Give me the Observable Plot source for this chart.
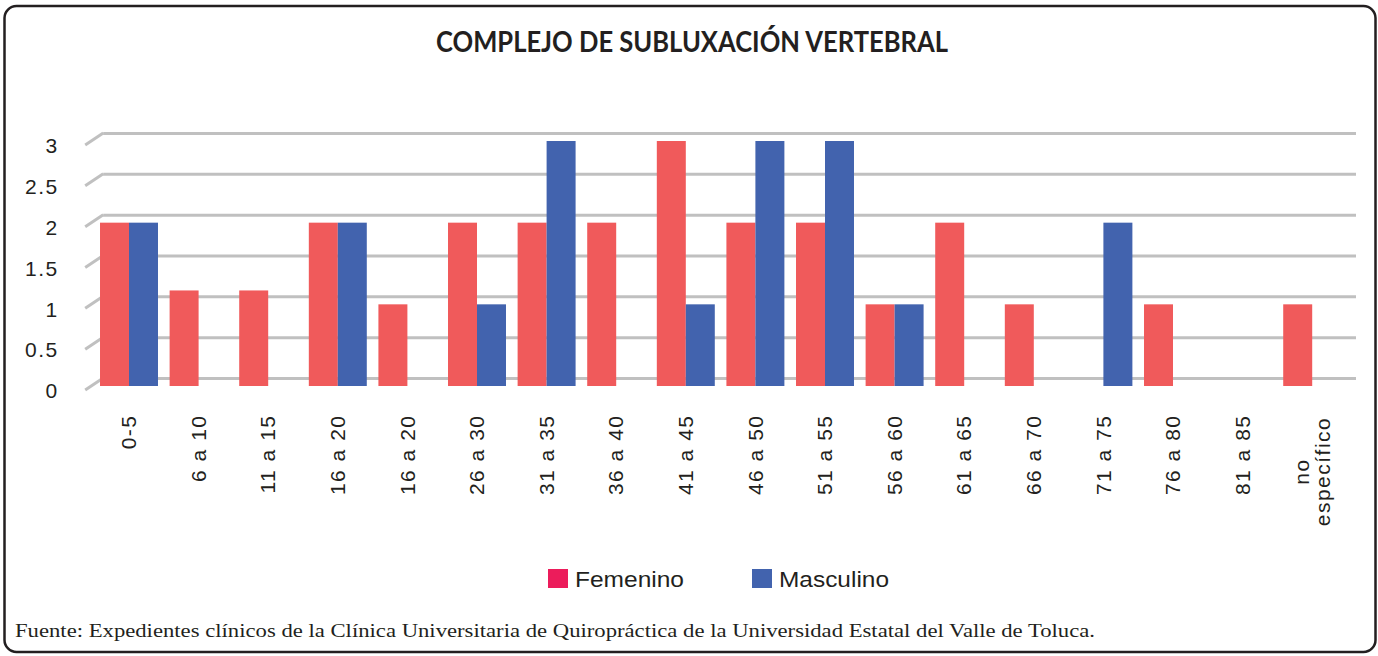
<!DOCTYPE html>
<html><head><meta charset="utf-8">
<script src="https://cdn.jsdelivr.net/npm/d3@7"></script>
<script src="https://cdn.jsdelivr.net/npm/@observablehq/plot@0.6"></script>
<style>
html,body{margin:0;padding:0;background:#fff;}
#wrap{position:relative;width:1378px;height:656px;overflow:hidden;background:#fff;}
#chart{position:absolute;left:0;top:100px;}
#overlay{position:absolute;left:0;top:0;}
</style></head>
<body>
<div id="wrap">
  <div id="chart"></div>
  <svg id="overlay" width="1378" height="656"></svg>
</div>
<script>
const title = "COMPLEJO DE SUBLUXACIÓN VERTEBRAL";
const source = "Fuente: Expedientes clínicos de la Clínica Universitaria de Quiropráctica de la Universidad Estatal del Valle de Toluca.";
const categories = ["0-5","6 a 10","11 a 15","16 a 20","16 a 20","26 a 30","31 a 35","36 a 40","41 a 45","46 a 50","51 a 55","56 a 60","61 a 65","66 a 70","71 a 75","76 a 80","81 a 85","no\nespecífico"];
const femenino  = [2, 1.17, 1.17, 2, 1, 2, 2, 2, 3, 2, 2, 1, 2, 1, null, 1, null, 1];
const masculino = [2, null, null, 2, null, 1, 3, null, 1, 3, 3, 1, null, null, 2, null, null, null];
const yTicks = [0, 0.5, 1, 1.5, 2, 2.5, 3];
const series = ["Femenino", "Masculino"];
const barColors = ["#f05a5b", "#4263ae"];
const legendColors = ["#ec1c5b", "#4263ae"];

const W = 1378, H = 440, ML = 94.2, MR = 31, MT = 41, MB = 154;
const PI = 0.167, PO = 0.0835;
const idx = d3.range(categories.length);

const fem = idx.filter(i => femenino[i] != null).map(i => ({i, v: femenino[i], s: series[0]}));
const mas = idx.filter(i => masculino[i] != null).map(i => ({i, v: masculino[i], s: series[1]}));

const xs = Plot.scale({x: {type: "band", domain: idx, range: [ML, W - MR], paddingInner: PI, paddingOuter: PO, round: false}});
const half = xs.bandwidth / 2;

const lastIdx = categories.length - 1;

const plot = Plot.plot({
  width: W, height: H,
  marginLeft: ML, marginRight: MR, marginTop: MT, marginBottom: MB,
  style: {fontFamily: "'Liberation Sans', Arial, sans-serif", fontSize: "21px", color: "#231f20", letterSpacing: "1.5px", background: "transparent", overflow: "visible"},
  x: {type: "band", domain: idx, paddingInner: PI, paddingOuter: PO, round: false, label: null},
  y: {domain: [0, 3], label: null},
  marks: [
    Plot.ruleY(yTicks, {stroke: "#c0c0c0", strokeWidth: 3, dx: 9, dy: -8}),
    Plot.ruleY(yTicks, {
      stroke: "#c0c0c0", strokeWidth: 3,
      render(index, scales, values, dims) {
        const g = d3.create("svg:g").attr("stroke", "#c0c0c0").attr("stroke-width", 3);
        for (const i of index) {
          const y = scales.y(yTicks[i]);
          g.append("line")
            .attr("x1", dims.marginLeft - 9).attr("y1", y + 4)
            .attr("x2", dims.marginLeft + 9).attr("y2", y - 8);
        }
        return g.node();
      }
    }),
    Plot.barY(fem, {x: "i", y: "v", fill: barColors[0], insetRight: half}),
    Plot.barY(mas, {x: "i", y: "v", fill: barColors[1], insetLeft: half}),
    Plot.axisY(yTicks, {tickSize: 0, tickPadding: 36, dy: 5, label: null, tickFormat: d => String(d)}),
    Plot.axisX(idx.slice(0, lastIdx), {tickRotate: -90, tickSize: 0, tickPadding: 28, label: null, tickFormat: i => categories[i]}),
    Plot.axisX([lastIdx], {tickRotate: -90, tickSize: 0, tickPadding: 85, label: null, textAnchor: "middle", tickFormat: i => categories[i]})
  ]
});
document.getElementById("chart").appendChild(plot);

// overlay: frame, title, legend, source
const ov = d3.select("#overlay");
ov.append("rect").attr("x", 4.5).attr("y", 6).attr("width", 1371).attr("height", 646)
  .attr("rx", 12).attr("fill", "none").attr("stroke", "#231f20").attr("stroke-width", 2.5);
ov.append("text").attr("x", 692).attr("y", 52).attr("text-anchor", "middle")
  .attr("font-family", "Lato, 'DejaVu Sans', sans-serif").attr("font-weight", 700).attr("font-size", 29)
  .attr("fill", "#231f20").attr("textLength", 512).attr("lengthAdjust", "spacingAndGlyphs").text(title);

const legendX = [548, 752], legendTextLen = [109, 110];
series.forEach((s, k) => {
  ov.append("rect").attr("x", legendX[k]).attr("y", 569).attr("width", 20).attr("height", 19).attr("fill", legendColors[k]);
  ov.append("text").attr("x", legendX[k] + 27).attr("y", 587)
    .attr("font-family", "'Liberation Sans', Arial, sans-serif").attr("font-size", 22).attr("fill", "#231f20")
    .attr("textLength", legendTextLen[k]).attr("lengthAdjust", "spacingAndGlyphs").text(s);
});
ov.append("text").attr("x", 15).attr("y", 637)
  .attr("font-family", "'Liberation Serif', 'Times New Roman', serif").attr("font-size", 18).attr("fill", "#231f20")
  .attr("textLength", 1080).attr("lengthAdjust", "spacingAndGlyphs").text(source);
</script>
</body></html>
